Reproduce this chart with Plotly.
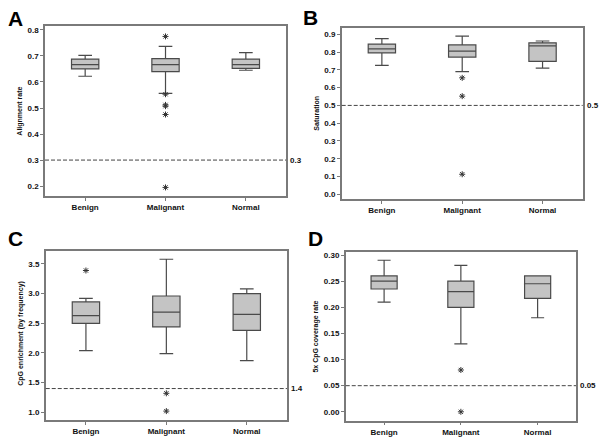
import plotly.graph_objects as go

categories = ["Benign", "Malignant", "Normal"]

# Panel A: Alignment rate
a_low = [0.622, 0.556, 0.645]
a_q1 = [0.650, 0.640, 0.652]
a_med = [0.667, 0.667, 0.667]
a_q3 = [0.688, 0.690, 0.688]
a_high = [0.702, 0.737, 0.713]
a_out_x = ["Malignant"] * 6
a_out_y = [0.775, 0.553, 0.512, 0.507, 0.475, 0.195]
a_ref = 0.3

# Panel B: Saturation
b_low = [0.725, 0.690, 0.710]
b_q1 = [0.795, 0.772, 0.748]
b_med = [0.818, 0.805, 0.835]
b_q3 = [0.845, 0.840, 0.852]
b_high = [0.875, 0.890, 0.862]
b_out_x = ["Malignant"] * 3
b_out_y = [0.655, 0.552, 0.113]
b_ref = 0.5

# Panel C: CpG enrichment (by frequency)
c_low = [2.04, 1.99, 1.87]
c_q1 = [2.50, 2.44, 2.38]
c_med = [2.63, 2.69, 2.65]
c_q3 = [2.86, 2.96, 3.00]
c_high = [2.92, 3.58, 3.08]
c_out_x = ["Benign", "Malignant", "Malignant"]
c_out_y = [3.39, 1.32, 1.02]
c_ref = 1.4

# Panel D: 5x CpG coverage rate
d_low = [0.210, 0.130, 0.180]
d_q1 = [0.235, 0.200, 0.217]
d_med = [0.250, 0.230, 0.245]
d_q3 = [0.260, 0.250, 0.260]
d_high = [0.290, 0.280, 0.260]
d_out_x = ["Malignant", "Malignant"]
d_out_y = [0.080, 0.000]
d_ref = 0.05

FONT = "Liberation Sans, Arial, sans-serif"
BOXLINE = "#4a4a4a"
BOXFILL = "#c4c4c4"
FRAME = "#7a7a7a"
TXT = "#111111"

panels = [
    dict(letter="A", title="Alignment rate", low=a_low, q1=a_q1, med=a_med, q3=a_q3, high=a_high,
         ox=a_out_x, oy=a_out_y, ref=a_ref, reflabel="0.3",
         xd=[0.075, 0.4767], yd=[0.5525, 0.9406], yr=[0.162, 0.815], dtick=0.1, fmt=".1f",
         lx=0.025, ly=0.957, tx=0.034, ty=0.746),
    dict(letter="B", title="Saturation", low=b_low, q1=b_q1, med=b_med, q3=b_q3, high=b_high,
         ox=b_out_x, oy=b_out_y, ref=b_ref, reflabel="0.5",
         xd=[0.5695, 0.9712], yd=[0.5457, 0.936], yr=[-0.026, 0.935], dtick=0.1, fmt=".1f",
         lx=0.517, ly=0.960, tx=0.527, ty=0.741),
    dict(letter="C", title="CpG enrichment (by frequency)", low=c_low, q1=c_q1, med=c_med, q3=c_q3, high=c_high,
         ox=c_out_x, oy=c_out_y, ref=c_ref, reflabel="1.4",
         xd=[0.0762, 0.4783], yd=[0.0411, 0.4263], yr=[0.87, 3.714], dtick=0.5, fmt=".1f",
         lx=0.025, ly=0.455, tx=0.035, ty=0.238),
    dict(letter="D", title="5x CpG coverage rate", low=d_low, q1=d_q1, med=d_med, q3=d_q3, high=d_high,
         ox=d_out_x, oy=d_out_y, ref=d_ref, reflabel="0.05",
         xd=[0.5762, 0.96], yd=[0.0395, 0.4253], yr=[-0.017, 0.3063], dtick=0.05, fmt=".2f",
         lx=0.525, ly=0.455, tx=0.527, ty=0.232),
]

fig = go.Figure()
annotations = []
shapes = []
layout_axes = {}

for i, p in enumerate(panels, start=1):
    xa = "x" if i == 1 else f"x{i}"
    ya = "y" if i == 1 else f"y{i}"
    fig.add_trace(go.Box(
        x=categories, q1=p["q1"], median=p["med"], q3=p["q3"],
        lowerfence=p["low"], upperfence=p["high"],
        fillcolor=BOXFILL, line=dict(color=BOXLINE, width=1.2),
        width=0.34, boxpoints=False, xaxis=xa, yaxis=ya, showlegend=False,
        hoverinfo="skip",
    ))
    fig.add_trace(go.Scatter(
        x=p["ox"], y=p["oy"], mode="markers",
        marker=dict(symbol="asterisk-open", size=5, color="#333333",
                    line=dict(color="#333333", width=1)),
        xaxis=xa, yaxis=ya, showlegend=False, hoverinfo="skip",
    ))
    axkey_x = "xaxis" if i == 1 else f"xaxis{i}"
    axkey_y = "yaxis" if i == 1 else f"yaxis{i}"
    layout_axes[axkey_x] = dict(
        domain=p["xd"], anchor=ya, range=[-0.5, 2.5], type="category",
        categoryorder="array", categoryarray=categories,
        showline=True, mirror=True, linecolor=FRAME, linewidth=1.5,
        ticks="outside", ticklen=3, tickcolor=FRAME, showgrid=False, zeroline=False,
        tickfont=dict(family=FONT, size=8, color=TXT, weight="bold"),
    )
    layout_axes[axkey_y] = dict(
        domain=p["yd"], anchor=xa, range=p["yr"], dtick=p["dtick"], tick0=0,
        tickformat=p["fmt"],
        showline=True, mirror=True, linecolor=FRAME, linewidth=1.5,
        ticks="outside", ticklen=3, tickcolor=FRAME, showgrid=False, zeroline=False,
        tickfont=dict(family=FONT, size=8, color=TXT, weight="bold"),
    )
    shapes.append(dict(type="line", xref=f"{xa} domain", yref=ya, x0=0, x1=1,
                       y0=p["ref"], y1=p["ref"],
                       line=dict(color="#444444", width=1, dash="4px,2px")))
    annotations.append(dict(text=p["reflabel"], xref=f"{xa} domain", yref=ya,
                            x=1.01, y=p["ref"], xanchor="left", yanchor="middle",
                            showarrow=False,
                            font=dict(family=FONT, size=8, color=TXT, weight="bold")))
    annotations.append(dict(text=p["letter"], xref="paper", yref="paper",
                            x=p["lx"], y=p["ly"], xanchor="center", yanchor="middle",
                            showarrow=False,
                            font=dict(family=FONT, size=21, color="#000000", weight="bold")))
    annotations.append(dict(text=p["title"], xref="paper", yref="paper",
                            x=p["tx"], y=p["ty"], xanchor="center", yanchor="middle",
                            textangle=-90, showarrow=False,
                            font=dict(family=FONT, size=7, color=TXT, weight="bold")))

fig.update_layout(
    width=600, height=438, margin=dict(l=0, r=0, t=0, b=0),
    paper_bgcolor="white", plot_bgcolor="white",
    annotations=annotations, shapes=shapes, **layout_axes,
)

fig.write_html("out.html", config={"displayModeBar": False},
               post_script="document.body.style.margin='0';")
